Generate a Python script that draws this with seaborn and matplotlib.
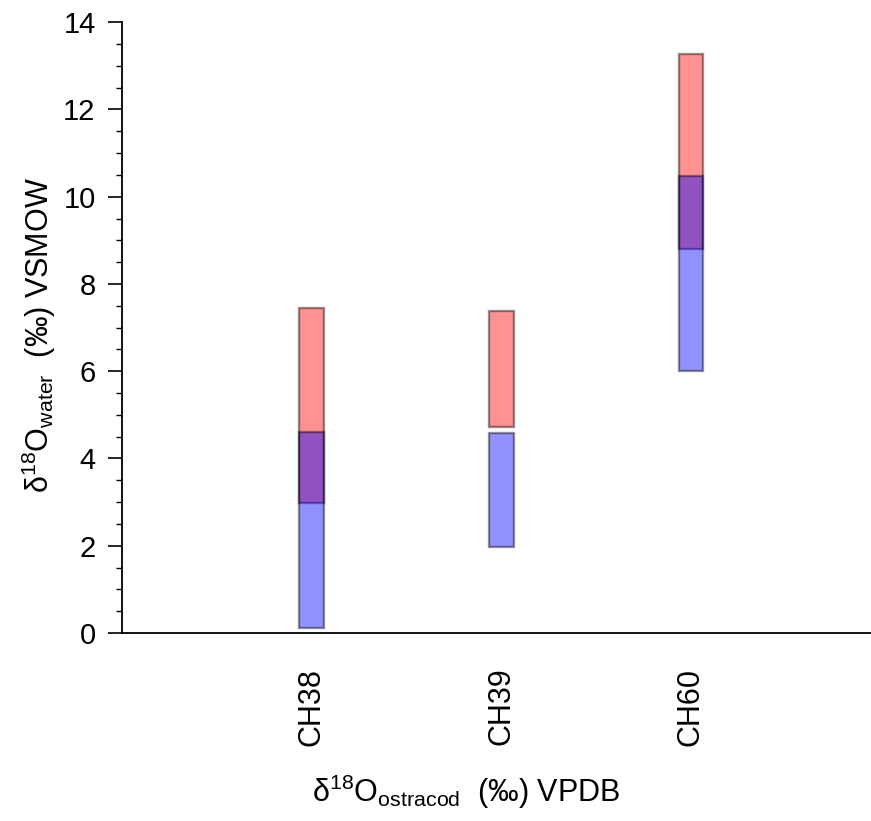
import matplotlib
matplotlib.use("Agg")
import matplotlib.pyplot as plt
import seaborn as sns
import numpy as np

# sample sites and the d18O water ranges
sites = ['CH38', 'CH39', 'CH60']
red_low = [2.98, 4.72, 8.80]
red_high = [7.45, 7.38, 13.27]
blue_low = [0.11, 1.97, 6.00]
blue_high = [4.60, 4.58, 10.47]

sns.set_style("ticks")
plt.rcParams['font.family'] = ['Liberation Sans', 'DejaVu Sans']
plt.rcParams['mathtext.fontset'] = 'custom'
plt.rcParams['mathtext.rm'] = 'Liberation Sans'
plt.rcParams['mathtext.it'] = 'Liberation Sans:italic'
for k in ['text.color', 'axes.labelcolor', 'xtick.color', 'ytick.color', 'axes.edgecolor']:
    plt.rcParams[k] = 'black'

fig = plt.figure(figsize=(8.71, 8.21), dpi=100)
ax = fig.add_axes([0.14, 0.229, 0.86, 0.744])

red_h = np.array(red_high) - np.array(red_low)
blue_h = np.array(blue_high) - np.array(blue_low)

# floating bars: height from low to high, started at the low value
sns.barplot(x=sites, y=red_h, bottom=red_low, width=0.13, ax=ax,
            color=(1, 0, 0, 0.43), edgecolor=(0, 0, 0, 0.42), linewidth=1.7, saturation=1)
sns.barplot(x=sites, y=blue_h, bottom=blue_low, width=0.13, ax=ax,
            color=(0, 0, 1, 0.43), edgecolor=(0, 0, 0, 0.42), linewidth=1.7, saturation=1)

ax.set_xlim(-1, 2.95)
ax.set_ylim(0, 14)
ax.set_yticks(np.arange(0, 15, 2))
ax.set_yticks(np.arange(0, 14.1, 0.5), minor=True)
ax.tick_params(axis='y', which='major', length=10, width=1.2, labelsize=21, pad=9)
ax.tick_params(axis='y', which='minor', length=4.5, width=1.0, left=True)
ax.tick_params(axis='x', length=0, labelsize=22, pad=25, rotation=90)

for s in ['top', 'right']:
    ax.spines[s].set_visible(False)
for s in ['left', 'bottom']:
    ax.spines[s].set_linewidth(1.3)

ax.set_ylabel('δ$^{18}$O$_{\\mathrm{water}}$  (‰) VSMOW', fontsize=22)
ax.set_xlabel('δ$^{18}$O$_{\\mathrm{ostracod}}$  (‰) VPDB', fontsize=22)
ax.xaxis.set_label_coords(0.46, -0.228)
ax.yaxis.set_label_coords(-0.086, 0.488)

plt.savefig('out.png', dpi=100)
